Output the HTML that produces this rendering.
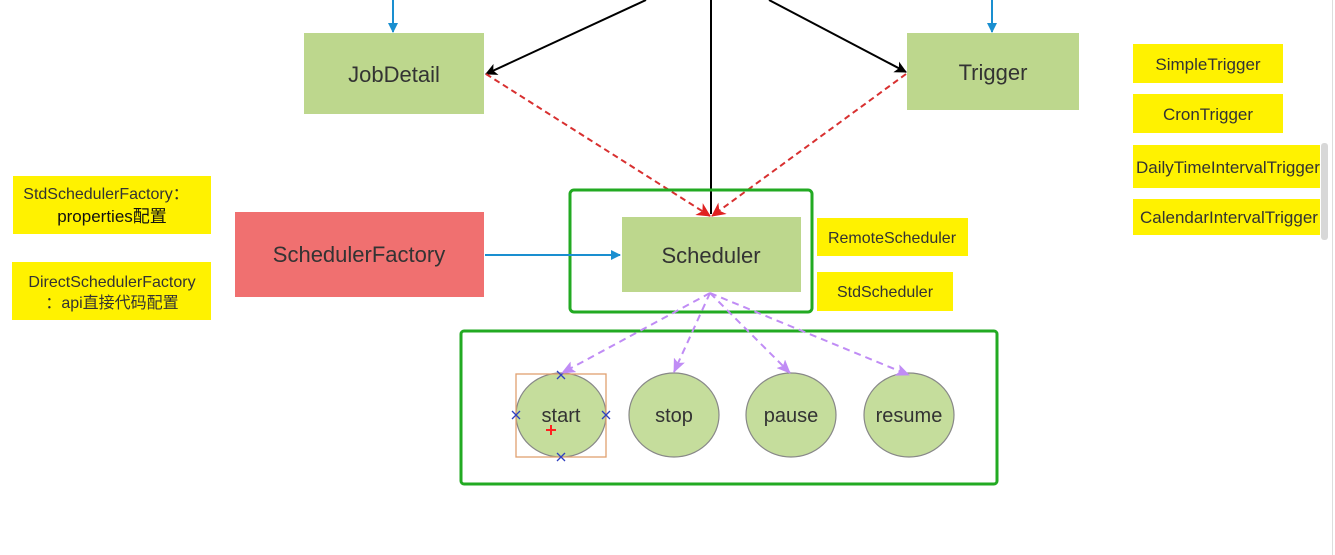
<!DOCTYPE html>
<html><head><meta charset="utf-8"><style>
html,body{margin:0;padding:0;background:#fff;}
svg{display:block;}
text{font-family:"Liberation Sans","Noto Sans CJK SC",sans-serif;}
</style></head><body>
<svg width="1335" height="555" viewBox="0 0 1335 555" xmlns="http://www.w3.org/2000/svg">
<defs>
<marker id="blue" markerWidth="10" markerHeight="10" refX="9" refY="5" orient="auto" markerUnits="userSpaceOnUse"><path d="M0,0 L10,5 L0,10 Z" fill="#1a8fd0"/></marker>
<marker id="blk" markerWidth="12" markerHeight="12" refX="11" refY="6" orient="auto" markerUnits="userSpaceOnUse"><path d="M0,0 L12,6 L0,12 L3,6 Z" fill="#000"/></marker>
<marker id="red" markerWidth="14" markerHeight="14" refX="13" refY="7" orient="auto" markerUnits="userSpaceOnUse"><path d="M0,0 L14,7 L0,14 L4,7 Z" fill="#e02020"/></marker>
<marker id="pur" markerWidth="14" markerHeight="12" refX="13" refY="6" orient="auto" markerUnits="userSpaceOnUse"><path d="M0,0 L14,6 L0,12 L3,6 Z" fill="#c08cf5"/></marker>
</defs>
<line x1="393" y1="0" x2="393" y2="32" stroke="#1a8fd0" stroke-width="2" marker-end="url(#blue)"/>
<line x1="992" y1="0" x2="992" y2="32" stroke="#1a8fd0" stroke-width="2" marker-end="url(#blue)"/>
<rect x="304" y="33" width="180" height="81" fill="#bdd78d"/>
<text x="394" y="82" font-size="22" text-anchor="middle" fill="#333">JobDetail</text>
<rect x="907" y="33" width="172" height="77" fill="#bdd78d"/>
<text x="993" y="80" font-size="22" text-anchor="middle" fill="#333">Trigger</text>
<line x1="646" y1="0" x2="486" y2="74" stroke="#000" stroke-width="2" marker-end="url(#blk)"/>
<line x1="711" y1="0" x2="711" y2="214" stroke="#000" stroke-width="2"/>
<line x1="769" y1="0" x2="906" y2="72" stroke="#000" stroke-width="2" marker-end="url(#blk)"/>
<line x1="486" y1="74" x2="710" y2="216" stroke="#d83030" stroke-width="2" stroke-dasharray="6,4" marker-end="url(#red)"/>
<line x1="906" y1="74" x2="712" y2="216" stroke="#d83030" stroke-width="2" stroke-dasharray="6,4" marker-end="url(#red)"/>
<rect x="570" y="190" width="242" height="122" rx="4" fill="none" stroke="#22aa22" stroke-width="3"/>
<rect x="622" y="217" width="179" height="75" fill="#bdd78d"/>
<text x="711" y="263" font-size="22" text-anchor="middle" fill="#333">Scheduler</text>
<rect x="235" y="212" width="249" height="85" fill="#f07070"/>
<text x="359" y="262" font-size="22" text-anchor="middle" fill="#333">SchedulerFactory</text>
<line x1="485" y1="255" x2="620" y2="255" stroke="#1a8fd0" stroke-width="2" marker-end="url(#blue)"/>
<rect x="13" y="176" width="198" height="58" fill="#fff200"/>
<text x="106" y="199" font-size="16" text-anchor="middle" fill="#333">StdSchedulerFactory：</text>
<text x="112" y="222" font-size="17" text-anchor="middle" fill="#111">properties配置</text>
<rect x="12" y="262" width="199" height="58" fill="#fff200"/>
<text x="112" y="287" font-size="16" text-anchor="middle" fill="#333">DirectSchedulerFactory</text>
<text x="112" y="308" font-size="16" text-anchor="middle" fill="#333">：api直接代码配置</text>
<rect x="817" y="218" width="151" height="38" fill="#fff200"/>
<text x="892" y="243" font-size="16" text-anchor="middle" fill="#333">RemoteScheduler</text>
<rect x="817" y="272" width="136" height="39" fill="#fff200"/>
<text x="885" y="297" font-size="16" text-anchor="middle" fill="#333">StdScheduler</text>
<rect x="1133" y="44" width="150" height="39" fill="#fff200"/>
<text x="1208" y="70" font-size="17" text-anchor="middle" fill="#333">SimpleTrigger</text>
<rect x="1133" y="94" width="150" height="39" fill="#fff200"/>
<text x="1208" y="120" font-size="17" text-anchor="middle" fill="#333">CronTrigger</text>
<rect x="1133" y="145" width="187" height="43" fill="#fff200"/>
<text x="1136" y="173" font-size="17" fill="#333">DailyTimeIntervalTrigger</text>
<rect x="1133" y="199" width="187" height="36" fill="#fff200"/>
<text x="1140" y="223" font-size="17" fill="#333">CalendarIntervalTrigger</text>
<rect x="1320" y="0" width="15" height="555" fill="#fff"/>
<rect x="1321" y="143" width="7" height="97" rx="3" fill="#d8d8d8"/>
<line x1="1332.5" y1="0" x2="1332.5" y2="555" stroke="#ddd" stroke-width="1"/>
<rect x="461" y="331" width="536" height="153" rx="3" fill="none" stroke="#22aa22" stroke-width="3"/>
<ellipse cx="561" cy="415" rx="45" ry="42" fill="#c5dd9c" stroke="#888" stroke-width="1.2"/>
<ellipse cx="674" cy="415" rx="45" ry="42" fill="#c5dd9c" stroke="#888" stroke-width="1.2"/>
<ellipse cx="791" cy="415" rx="45" ry="42" fill="#c5dd9c" stroke="#888" stroke-width="1.2"/>
<ellipse cx="909" cy="415" rx="45" ry="42" fill="#c5dd9c" stroke="#888" stroke-width="1.2"/>
<text x="561" y="422" font-size="20" text-anchor="middle" fill="#333">start</text>
<text x="674" y="422" font-size="20" text-anchor="middle" fill="#333">stop</text>
<text x="791" y="422" font-size="20" text-anchor="middle" fill="#333">pause</text>
<text x="909" y="422" font-size="20" text-anchor="middle" fill="#333">resume</text>
<rect x="516" y="374" width="90" height="83" fill="none" stroke="#e0a070" stroke-width="1.3"/>
<g stroke="#3040c0" stroke-width="1.3">
<path d="M557,371 l8,8 M565,371 l-8,8"/>
<path d="M557,453 l8,8 M565,453 l-8,8"/>
<path d="M512,411 l8,8 M520,411 l-8,8"/>
<path d="M602,411 l8,8 M610,411 l-8,8"/>
</g>
<path d="M546,430 h10 M551,425 v10" stroke="#ff2020" stroke-width="2"/>
<g stroke="#c08cf5" stroke-width="2" stroke-dasharray="7,5" fill="none">
<line x1="710" y1="293" x2="562" y2="373" marker-end="url(#pur)"/>
<line x1="710" y1="293" x2="674" y2="372" marker-end="url(#pur)"/>
<line x1="710" y1="293" x2="790" y2="373" marker-end="url(#pur)"/>
<line x1="710" y1="293" x2="909" y2="375" marker-end="url(#pur)"/>
</g>
</svg>
</body></html>
